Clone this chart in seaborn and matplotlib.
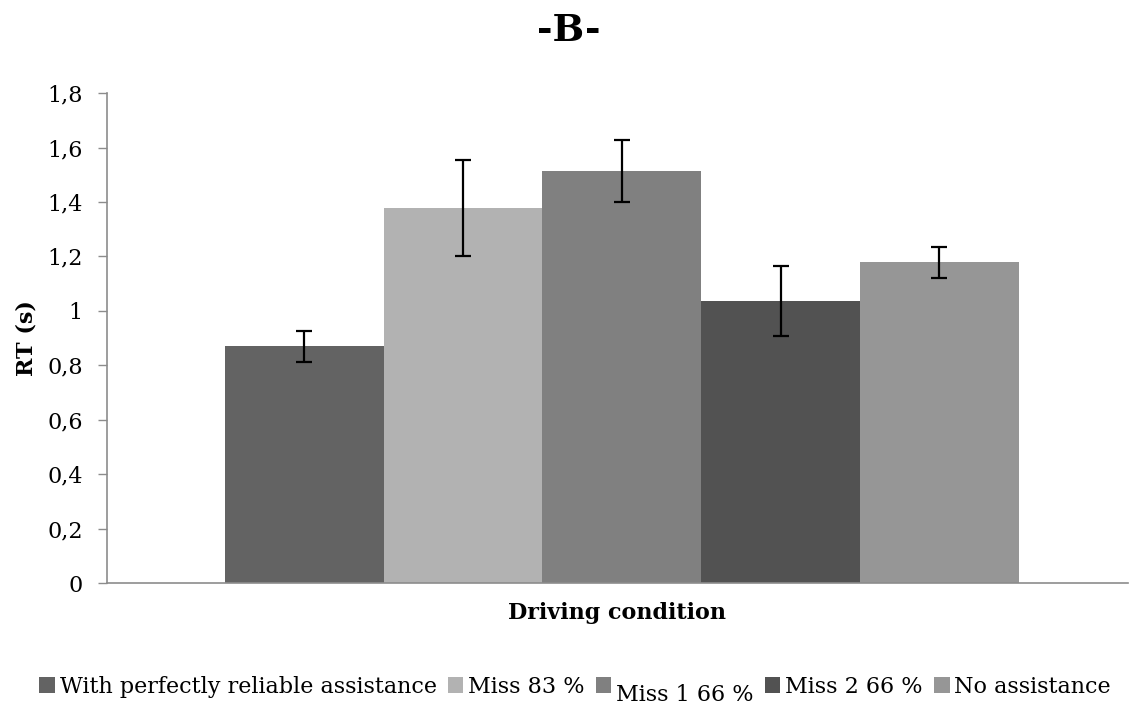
import pandas as pd
import seaborn as sns
import matplotlib.pyplot as plt
from matplotlib.ticker import FuncFormatter

# values
conditions = ['With perfectly reliable assistance', 'Miss 83 %', 'Miss 1 66 %',
              'Miss 2 66 %', 'No assistance']
rt_mean = [0.87, 1.378, 1.514, 1.036, 1.178]
rt_err = [0.057, 0.176, 0.114, 0.13, 0.057]
bar_colors = ['#636363', '#b2b2b2', '#808080', '#525252', '#969696']

df = pd.DataFrame({'group': ['Driving condition'] * len(conditions),
                   'condition': conditions,
                   'rt': rt_mean})

sns.set_style('white')
plt.rcParams['font.family'] = ['DejaVu Serif']
plt.rcParams['text.color'] = 'black'
plt.rcParams['axes.labelcolor'] = 'black'
plt.rcParams['ytick.labelcolor'] = 'black'

fig = plt.figure(figsize=(11.3, 7.11), dpi=100)
ax = fig.add_axes([0.0947, 0.180, 0.9033, 0.689])

sns.barplot(data=df, x='group', y='rt', hue='condition', hue_order=conditions,
            palette=bar_colors, width=0.8, saturation=1, errorbar=None,
            edgecolor='none', linewidth=0, ax=ax, legend=True)

# error bars at the centres of the drawn bars
for patch, m, e in zip(ax.patches[:len(conditions)], rt_mean, rt_err):
    xc = patch.get_x() + patch.get_width() / 2
    ax.errorbar(xc, m, yerr=e, fmt='none', ecolor='black', elinewidth=1.6,
                capsize=5.5, capthick=1.6, zorder=5)

ax.set_ylim(0, 1.8)
ax.set_xlim(-0.519, 0.510)
ax.set_yticks([0, 0.2, 0.4, 0.6, 0.8, 1.0, 1.2, 1.4, 1.6, 1.8])
ax.yaxis.set_major_formatter(FuncFormatter(
    lambda v, p: ('%g' % round(v, 1)).replace('.', ',')))
ax.tick_params(axis='y', which='major', direction='out', length=6.5, width=1,
               color='#8c8c8c', labelcolor='black', labelsize=16, pad=11,
               left=True)
ax.tick_params(axis='x', length=0, labelbottom=False)

for side in ['top', 'right']:
    ax.spines[side].set_visible(False)
for side in ['left', 'bottom']:
    ax.spines[side].set_color('#8c8c8c')
    ax.spines[side].set_linewidth(1.2)

ax.set_xlabel('Driving condition', fontsize=16, fontweight='bold', labelpad=14,
              color='black')
ax.set_ylabel('RT (s)', fontsize=16, fontweight='bold', labelpad=7,
              color='black')
fig.text(0.503, 0.957, '-B-', fontsize=27, fontweight='bold', color='black',
         ha='center', va='center')

handles, labels = ax.get_legend_handles_labels()
leg = ax.legend(handles, labels, loc='center', bbox_to_anchor=(0.509, 0.034),
                bbox_transform=fig.transFigure, ncol=5, frameon=False,
                fontsize=16, handlelength=0.7, handleheight=0.7,
                handletextpad=0.22, columnspacing=0.5, labelcolor='black')
# the third entry sits lower in the reference legend
leg.get_texts()[2].set_y(-8)

fig.savefig('out.png', dpi=100)
